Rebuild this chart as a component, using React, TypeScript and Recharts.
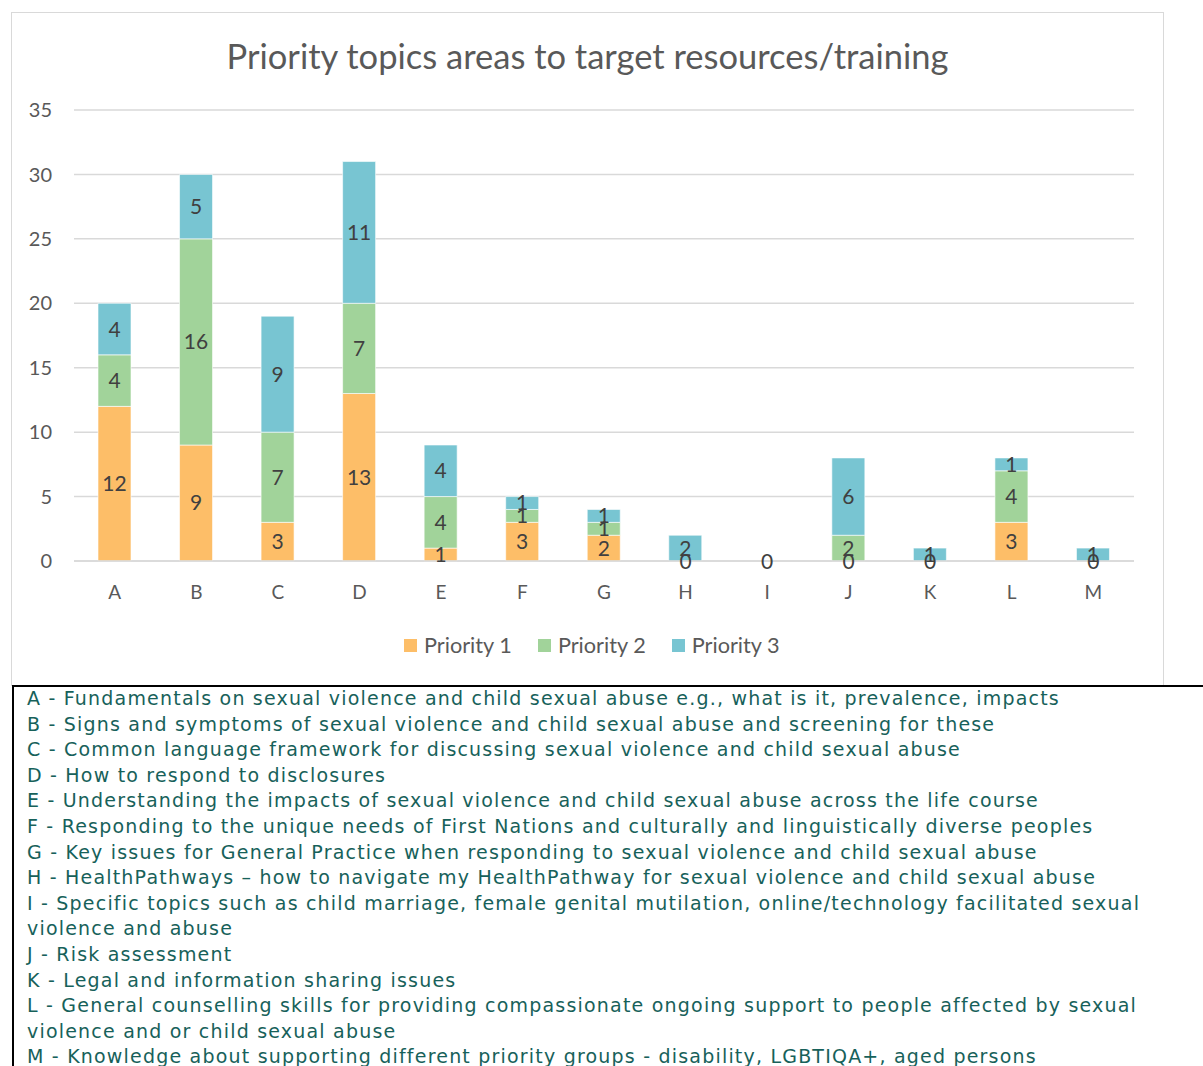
import React from 'react';
import { ComposedChart, Bar, Line, XAxis, YAxis, CartesianGrid, LabelList } from 'recharts';

const categories = ['A', 'B', 'C', 'D', 'E', 'F', 'G', 'H', 'I', 'J', 'K', 'L', 'M'];
const priority1 = [12, 9, 3, 13, 1, 3, 2, 0, 0, 0, 0, 3, 0];
const priority2 = [4, 16, 7, 7, 4, 1, 1, 0, 0, 2, 0, 4, 0];
const priority3 = [4, 5, 9, 11, 4, 1, 1, 2, 0, 6, 1, 1, 1];
const yTicks = [0, 5, 10, 15, 20, 25, 30, 35];
const seriesNames = ['Priority 1', 'Priority 2', 'Priority 3'];
const seriesColors = ['#FDBE68', '#A1D39A', '#78C5D2'];
const title = 'Priority topics areas to target resources/training';
const descriptionLines = [
  'A - Fundamentals on sexual violence and child sexual abuse e.g., what is it, prevalence, impacts',
  'B - Signs and symptoms of sexual violence and child sexual abuse and screening for these',
  'C - Common language framework for discussing sexual violence and child sexual abuse',
  'D - How to respond to disclosures',
  'E - Understanding the impacts of sexual violence and child sexual abuse across the life course',
  'F - Responding to the unique needs of First Nations and culturally and linguistically diverse peoples',
  'G - Key issues for General Practice when responding to sexual violence and child sexual abuse',
  'H - HealthPathways \u2013 how to navigate my HealthPathway for sexual violence and child sexual abuse',
  'I - Specific topics such as child marriage, female genital mutilation, online/technology facilitated sexual',
  'violence and abuse',
  'J - Risk assessment',
  'K - Legal and information sharing issues',
  'L - General counselling skills for providing compassionate ongoing support to people affected by sexual',
  'violence and or child sexual abuse',
  'M - Knowledge about supporting different priority groups - disability, LGBTIQA+, aged persons',
];

const data = categories.map((c, i) => ({
  name: c,
  p1: priority1[i],
  p2: priority2[i],
  p3: priority3[i],
  zero: priority1[i] === 0 || priority2[i] === 0 || priority3[i] === 0 ? 0 : null,
}));

const FONT = 'Lato, "Open Sans", sans-serif';
const keys = ['p1', 'p2', 'p3'];

const ZeroLabel = (props: any) => {
  const { x, y, value } = props;
  if (value === null || value === undefined) return null;
  return (
    <text x={x} y={y} dy={8} textAnchor="middle" fill="#404040" fontSize={21} fontFamily={FONT}>
      {String(value)}
    </text>
  );
};

export default function App() {
  return (
    <div style={{ position: 'absolute', left: 0, top: 0, width: 1203, height: 1066, background: '#fff', overflow: 'hidden' }}>
      <div
        style={{
          position: 'absolute',
          left: 11,
          top: 12,
          width: 1153,
          height: 674,
          border: '1px solid #d9d9d9',
          boxSizing: 'border-box',
        }}
      />
      <div
        style={{
          position: 'absolute',
          left: 0,
          top: 35,
          width: 1175,
          textAlign: 'center',
          fontFamily: FONT,
          fontSize: 34.5,
          color: '#595959',
          lineHeight: '42px',
          whiteSpace: 'nowrap',
        }}
      >
        {title}
      </div>
      <div style={{ position: 'absolute', left: 0, top: 0 }}>
        <ComposedChart
          width={1203}
          height={700}
          data={data}
          margin={{ top: 110, right: 69, bottom: 99, left: 0 }}
          barSize={33}
        >
          <CartesianGrid vertical={false} stroke="#d9d9d9" strokeWidth={1.5} />
          <XAxis
            dataKey="name"
            axisLine={{ stroke: '#d9d9d9', strokeWidth: 1.5 }}
            tickLine={false}
            tickSize={0}
            tickMargin={25}
            height={40}
            tick={{ fill: '#595959', fontSize: 19, fontFamily: FONT }}
          />
          <YAxis
            domain={[0, 35]}
            ticks={yTicks}
            width={74}
            axisLine={false}
            tickLine={false}
            tickSize={0}
            tickMargin={22}
            interval={0}
            tick={{ fill: '#595959', fontSize: 20, fontFamily: FONT }}
          />
          {keys.map((k, i) => (
            <Bar
              key={k}
              dataKey={k}
              name={seriesNames[i]}
              stackId="a"
              fill={seriesColors[i]}
              stroke="#ffffff"
              strokeWidth={0.6}
              isAnimationActive={false}
            >
              <LabelList
                dataKey={k}
                position="center"
                fill="#404040"
                fontSize={21}
                fontFamily={FONT}
              />
            </Bar>
          ))}
          <Line
            dataKey="zero"
            stroke="none"
            dot={false}
            activeDot={false}
            legendType="none"
            isAnimationActive={false}
          >
            <LabelList dataKey="zero" content={ZeroLabel} />
          </Line>
        </ComposedChart>
      </div>
      <div
        style={{
          position: 'absolute',
          left: 404,
          top: 631,
          display: 'flex',
          alignItems: 'center',
          fontFamily: FONT,
          fontSize: 21.7,
          color: '#595959',
          whiteSpace: 'nowrap',
          lineHeight: '28px',
        }}
      >
        {seriesNames.map((n, i) => (
          <div key={n} style={{ display: 'flex', alignItems: 'center', marginRight: i < 2 ? 26 : 0 }}>
            <span style={{ display: 'inline-block', width: 13, height: 13, background: seriesColors[i], marginRight: 7 }} />
            <span>{n}</span>
          </div>
        ))}
      </div>
      <div style={{ position: 'absolute', left: 12, top: 685, width: 1191, height: 2, background: '#000' }} />
      <div style={{ position: 'absolute', left: 12, top: 685, width: 2, height: 381, background: '#000' }} />
      <div
        style={{
          position: 'absolute',
          left: 27,
          top: 686,
          fontFamily: '"DejaVu Sans", sans-serif',
          fontSize: 19,
          letterSpacing: 1.2,
          color: '#17615A',
          lineHeight: '25.6px',
          whiteSpace: 'nowrap',
        }}
      >
        {descriptionLines.map((l, i) => (
          <div key={i}>{l}</div>
        ))}
      </div>
    </div>
  );
}
